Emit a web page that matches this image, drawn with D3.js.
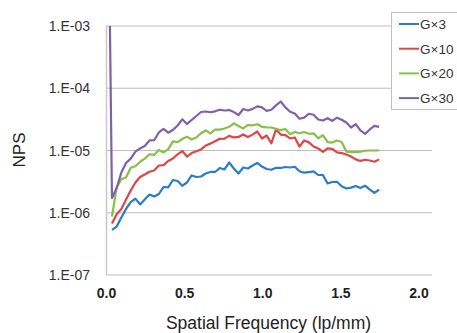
<!DOCTYPE html>
<html>
<head>
<meta charset="utf-8">
<script src="https://cdn.jsdelivr.net/npm/d3@7"></script>
<style>
  body { margin: 0; background: #fff; }
  svg { display: block; font-family: "Liberation Sans", Arial, sans-serif; }
</style>
</head>
<body>
<div id="chart"></div>
<script>
// spatial frequency (lp/mm)
var freq = [0.022, 0.035, 0.065, 0.095, 0.125, 0.155, 0.185, 0.215, 0.245, 0.275,
  0.305, 0.335, 0.365, 0.395, 0.425, 0.455, 0.485, 0.515, 0.545, 0.575,
  0.605, 0.635, 0.665, 0.695, 0.725, 0.755, 0.785, 0.815, 0.845, 0.875,
  0.905, 0.935, 0.965, 0.995, 1.025, 1.055, 1.085, 1.115, 1.145, 1.175,
  1.205, 1.235, 1.265, 1.295, 1.325, 1.355, 1.385, 1.415, 1.445, 1.475,
  1.505, 1.535, 1.565, 1.595, 1.625, 1.655, 1.685, 1.715, 1.745];

// NPS values per gain
var g3 = [null, 5.3e-7, 6.0e-7, 8.4e-7, 1.15e-6, 1.48e-6, 1.69e-6, 1.36e-6, 1.63e-6, 1.96e-6,
  1.82e-6, 2.0e-6, 2.59e-6, 2.55e-6, 3.36e-6, 3.24e-6, 2.71e-6, 3.06e-6, 3.97e-6, 3.75e-6,
  3.82e-6, 4.27e-6, 4.52e-6, 4.52e-6, 5.24e-6, 4.96e-6, 6.41e-6, 5.14e-6, 4.27e-6, 5.33e-6,
  5.14e-6, 5.74e-6, 6.30e-6, 5.53e-6, 5.05e-6, 4.90e-6, 5.27e-6, 5.24e-6, 5.43e-6, 5.33e-6,
  5.49e-6, 4.65e-6, 4.40e-6, 4.48e-6, 4.63e-6, 4.04e-6, 4.04e-6, 2.95e-6, 3.12e-6, 3.14e-6,
  2.66e-6, 2.45e-6, 2.53e-6, 2.69e-6, 2.50e-6, 2.72e-6, 2.36e-6, 2.08e-6, 2.36e-6];

var g10 = [null, 6.7e-7, 9.5e-7, 1.15e-6, 1.63e-6, 2.28e-6, 3.06e-6, 3.75e-6, 4.12e-6, 4.55e-6,
  4.78e-6, 5.74e-6, 5.81e-6, 6.78e-6, 7.44e-6, 8.69e-6, 9.8e-6, 8.0e-6, 9.1e-6, 9.7e-6,
  1.04e-5, 1.20e-5, 1.29e-5, 1.41e-5, 1.54e-5, 1.55e-5, 1.72e-5, 1.62e-5, 1.65e-5, 1.81e-5,
  1.65e-5, 1.80e-5, 2.02e-5, 1.56e-5, 1.74e-5, 1.30e-5, 2.18e-5, 1.80e-5, 1.77e-5, 1.56e-5,
  1.62e-5, 1.16e-5, 1.45e-5, 1.35e-5, 1.16e-5, 1.08e-5, 9.5e-6, 1.08e-5, 1.06e-5, 9.3e-6,
  9.1e-6, 8.6e-6, 8.0e-6, 7.2e-6, 6.8e-6, 7.1e-6, 6.9e-6, 6.6e-6, 7.2e-6];

var g20 = [null, 8.7e-7, 2.55e-6, 3.46e-6, 3.68e-6, 5.27e-6, 5.6e-6, 6.6e-6, 7.4e-6, 8.7e-6,
  8.5e-6, 1.02e-5, 9.3e-6, 1.05e-5, 1.40e-5, 1.36e-5, 1.53e-5, 1.67e-5, 1.50e-5, 1.62e-5,
  1.89e-5, 2.10e-5, 1.88e-5, 2.16e-5, 2.16e-5, 2.26e-5, 2.40e-5, 2.72e-5, 2.48e-5, 2.26e-5,
  2.57e-5, 2.54e-5, 2.64e-5, 2.40e-5, 2.36e-5, 2.34e-5, 2.23e-5, 2.12e-5, 2.22e-5, 1.83e-5,
  1.98e-5, 1.89e-5, 1.98e-5, 1.86e-5, 1.89e-5, 1.57e-5, 1.77e-5, 1.36e-5, 1.34e-5, 1.45e-5,
  1.37e-5, 9.6e-6, 9.4e-6, 9.4e-6, 9.6e-6, 9.9e-6, 1.0e-5, 1.0e-5, 1.0e-5];

var g30 = [1.0e-3, 1.73e-6, 2.50e-6, 4.43e-6, 6.3e-6, 7.4e-6, 9.6e-6, 1.08e-5, 1.18e-5, 1.45e-5,
  1.46e-5, 1.95e-5, 2.22e-5, 1.93e-5, 2.13e-5, 2.52e-5, 3.17e-5, 2.67e-5, 3.09e-5, 3.58e-5,
  4.15e-5, 4.23e-5, 4.12e-5, 4.26e-5, 4.51e-5, 4.39e-5, 4.46e-5, 4.14e-5, 3.72e-5, 4.64e-5,
  4.39e-5, 4.66e-5, 5.11e-5, 4.94e-5, 4.34e-5, 4.51e-5, 5.30e-5, 6.13e-5, 4.92e-5, 4.20e-5,
  3.92e-5, 3.24e-5, 3.37e-5, 3.89e-5, 3.75e-5, 3.15e-5, 3.03e-5, 3.30e-5, 3.00e-5, 3.37e-5,
  3.12e-5, 2.82e-5, 2.34e-5, 2.64e-5, 2.10e-5, 1.85e-5, 2.18e-5, 2.48e-5, 2.39e-5];

var seriesNames = ["G\u00d73", "G\u00d710", "G\u00d720", "G\u00d730"];
var seriesValues = [g3, g10, g20, g30];
var colors = ["#2b7cc2", "#e04545", "#86c046", "#8060aa"];

var yTicks = [1e-3, 1e-4, 1e-5, 1e-6, 1e-7];
var yTickLabels = ["1.E-03", "1.E-04", "1.E-05", "1.E-06", "1.E-07"];
var xTicks = [0, 0.5, 1.0, 1.5, 2.0];

var width = 457;
var height = 333;

var svg = d3.select("#chart")
  .append("svg")
    .attr("width", width)
    .attr("height", height);

var x = d3.scaleLinear().domain([0, 2]).range([106.5, 419]);
var y = d3.scaleLog().domain([1e-7, 1e-3]).range([275, 26]);
var gridRight = 432;

// gridlines
svg.append("g")
  .selectAll("line")
  .data(yTicks)
  .enter()
  .append("line")
    .attr("x1", x(0))
    .attr("x2", gridRight)
    .attr("y1", function (d) { return y(d); })
    .attr("y2", function (d) { return y(d); })
    .attr("stroke", "#bdbdbd")
    .attr("stroke-width", 1.2);

// left axis line
svg.append("line")
  .attr("x1", x(0))
  .attr("x2", x(0))
  .attr("y1", y(1e-3))
  .attr("y2", y(1e-7))
  .attr("stroke", "#c8c8c8")
  .attr("stroke-width", 1.5);

// y tick labels
svg.append("g")
  .selectAll("text")
  .data(yTicks)
  .enter()
  .append("text")
    .attr("x", 90)
    .attr("y", function (d) { return y(d); })
    .attr("dy", "0.36em")
    .attr("text-anchor", "end")
    .style("font-size", "14px")
    .style("fill", "#333")
    .text(function (d, i) { return yTickLabels[i]; });

// x tick labels
svg.append("g")
  .selectAll("text")
  .data(xTicks)
  .enter()
  .append("text")
    .attr("x", function (d) { return x(d); })
    .attr("y", 298)
    .attr("text-anchor", "middle")
    .style("font-size", "14px")
    .style("font-weight", "bold")
    .style("fill", "#222")
    .text(function (d) { return d3.format(".1f")(d); });

// axis titles
svg.append("text")
  .attr("transform", "translate(25,150) rotate(-90)")
  .attr("text-anchor", "middle")
  .style("font-size", "17px")
  .style("fill", "#222")
  .text("NPS");

svg.append("text")
  .attr("x", 268.5)
  .attr("y", 329)
  .attr("text-anchor", "middle")
  .style("font-size", "17.5px")
  .style("fill", "#222")
  .text("Spatial Frequency (lp/mm)");

// series
var line = d3.line()
  .defined(function (d) { return d[1] != null; })
  .x(function (d) { return x(d[0]); })
  .y(function (d) { return y(d[1]); });

svg.append("g")
  .selectAll("path")
  .data(seriesValues)
  .enter()
  .append("path")
    .attr("d", function (vals) {
      return line(vals.map(function (v, i) { return [freq[i], v]; }));
    })
    .attr("fill", "none")
    .attr("stroke", function (d, i) { return colors[i]; })
    .attr("stroke-width", 2.2)
    .attr("stroke-linejoin", "round");

// legend
var legend = svg.append("g");

legend.append("rect")
  .attr("x", 391.5)
  .attr("y", 12.5)
  .attr("width", 70)
  .attr("height", 97)
  .attr("fill", "#fff")
  .attr("stroke", "#bfbfbf");

var item = legend.selectAll(".item")
  .data(seriesNames)
  .enter()
  .append("g")
    .attr("transform", function (d, i) { return "translate(0," + (24 + i * 24.7) + ")"; });

item.append("line")
  .attr("x1", 399)
  .attr("x2", 419)
  .attr("stroke", function (d, i) { return colors[i]; })
  .attr("stroke-width", 2);

item.append("text")
  .attr("x", 420)
  .attr("dy", "0.36em")
  .style("font-size", "13.5px")
  .style("fill", "#333")
  .text(function (d) { return d; });
</script>
</body>
</html>
